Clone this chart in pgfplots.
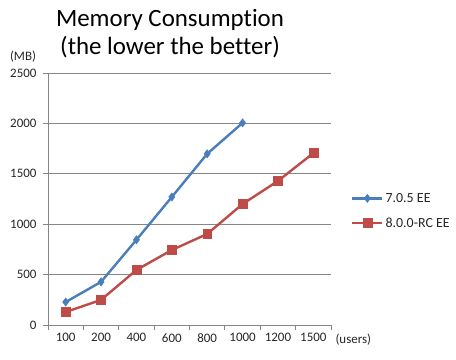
\documentclass[border=0pt]{standalone}
\usepackage{fontspec}
\setmainfont{Carlito}[Ligatures={NoCommon}]
\usepackage{pgfplots}
\pgfplotsset{compat=1.18}
\definecolor{sblue}{HTML}{4A7EBB}
\definecolor{sred}{HTML}{BE4B48}
\definecolor{axgray}{HTML}{868686}
\definecolor{txt}{HTML}{262626}
\begin{document}
\begin{tikzpicture}[x=1bp,y=1bp]
\useasboundingbox (0,0) rectangle (456,359);
\begin{axis}[at={(48bp,34bp)}, anchor=south west, scale only axis,
  width=283bp, height=252bp,
  xmin=0.5, xmax=8.5, ymin=0, ymax=2500,
  ytick={0,500,...,2500},
  xtick={0.5,1.5,2.5,3.5,4.5,5.5,6.5,7.5,8.5},
  x tick label as interval,
  xticklabels={100,200,400,600,800,1000,1200,1500},
  axis x line*=bottom, axis y line*=left,
  axis line style={axgray, line width=0.8pt},
  tick style={axgray, line width=0.8pt},
  tick align=outside, major tick length=5bp,
  ymajorgrids, grid style={axgray, line width=0.8pt},
  tick label style={font=\fontsize{13}{13}\selectfont, text=txt},
  /pgf/number format/assume math mode=true,
  /pgf/number format/1000 sep={},
  yticklabel style={xshift=-3bp},
  legend style={draw=none, at={(1.06,0.54)}, anchor=north west,
    font=\fontsize{14}{14}\selectfont, text=txt, row sep=10bp, fill=none},
  legend cell align=left,
  legend image code/.code={\draw[mark repeat=2,mark phase=2] plot coordinates {(0bp,0bp)(15bp,0bp)(30bp,0bp)};},
]
\addplot[sblue, line width=2.4pt, mark=diamond*, mark size=4.2pt, mark options={solid, line width=0.4pt}]
  coordinates {(1,228)(2,428)(3,845)(4,1270)(5,1698)(6,2005)};
\addlegendentry{7.0.5 EE}
\addplot[sred, line width=2.4pt, mark=square*, mark size=4.5pt, mark options={solid, line width=0.4pt}]
  coordinates {(1,129)(2,249)(3,546)(4,744)(5,903)(6,1200)(7,1429)(8,1705)};
\addlegendentry{8.0.0-RC EE}
\end{axis}
\node[font=\fontsize{25}{25}\selectfont, text=black] at (170,339) {Memory Consumption};
\node[font=\fontsize{25}{25}\selectfont, text=black] at (170,312) {(the lower the better)};
\node[font=\fontsize{13}{13}\selectfont, text=txt] at (23,302) {(MB)};
\node[font=\fontsize{13}{13}\selectfont, text=txt, anchor=west] at (332,19) {(users)};
\end{tikzpicture}
\end{document}
